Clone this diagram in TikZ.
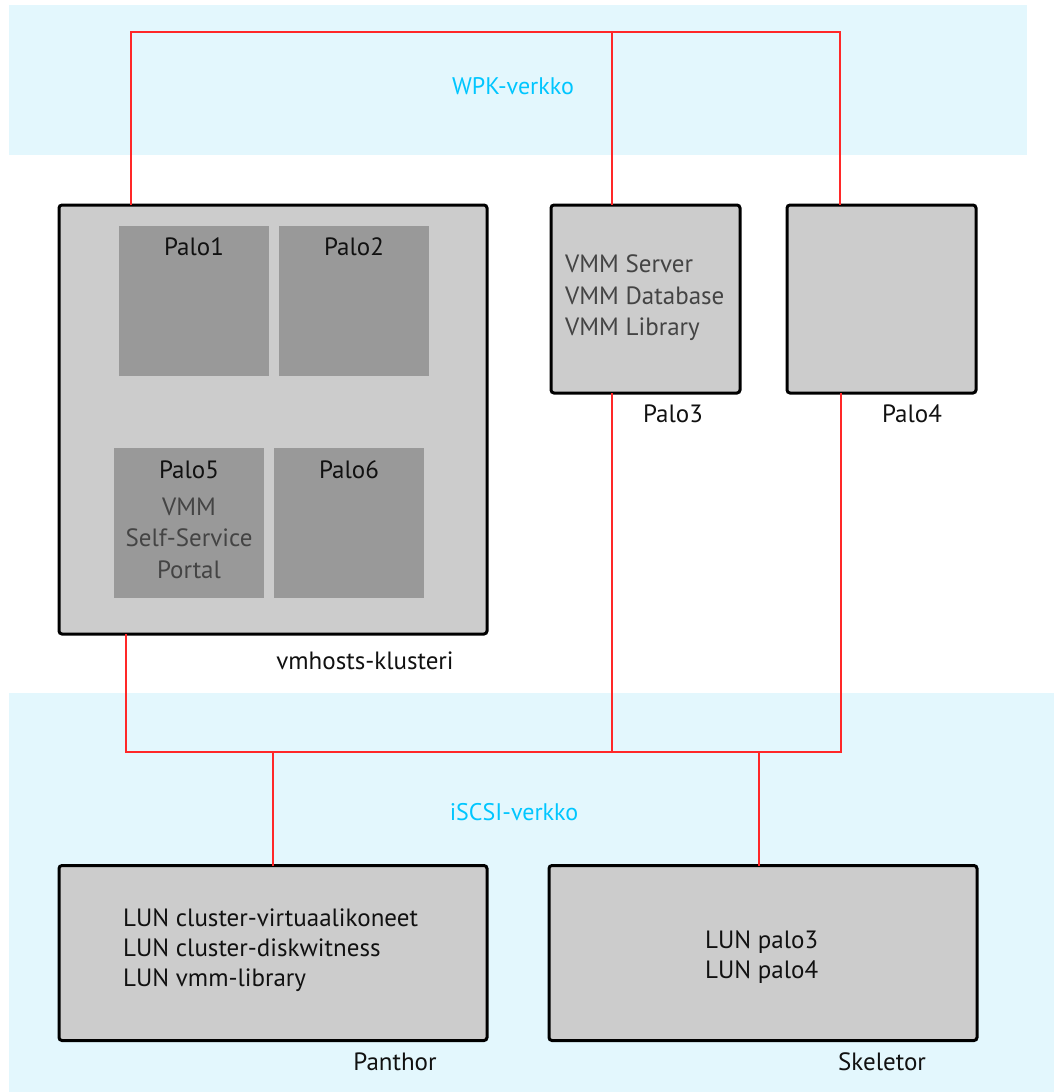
\documentclass[tikz,border=0pt]{standalone}
\usepackage{fontspec}
\setmainfont{PT Sans}
\definecolor{bandblue}{RGB}{227,247,253}
\definecolor{boxgray}{RGB}{204,204,204}
\definecolor{subgray}{RGB}{153,153,153}
\definecolor{netred}{RGB}{255,40,40}
\definecolor{labcyan}{RGB}{0,198,255}
\definecolor{txtgray}{RGB}{68,68,68}
\definecolor{txtblack}{RGB}{17,17,17}
\begin{document}
\begin{tikzpicture}[x=1pt,y=-1pt,
  hostbox/.style={draw=black,line width=3pt,fill=boxgray,rounded corners=3pt,inner sep=0pt,outer sep=0pt},
  subbox/.style={fill=subgray,inner sep=0pt,outer sep=0pt,minimum width=150pt,minimum height=150pt},
  net/.style={draw=netred,line width=2pt},
  lab/.style={font=\fontsize{25}{30}\selectfont,text=txtblack,inner sep=0pt},
  glab/.style={font=\fontsize{25}{31.5}\selectfont,text=txtgray,inner sep=0pt},
  netlab/.style={font=\fontsize{24}{29}\selectfont,text=labcyan,inner sep=0pt}]
\useasboundingbox (0,0) rectangle (1054,1092);
% bands
\fill[bandblue] (9,5) rectangle (1027,155);
\fill[bandblue] (9,693) rectangle (1054,1092);
\node[netlab] (wpk) at (513,86) {WPK-verkko};
\node[netlab] (iscsi) at (514,812) {iSCSI-verkko};
% boxes
\node[hostbox,minimum width=428pt,minimum height=429pt] (vmhosts) at (273,419.5) {};
\node[hostbox,minimum width=189pt,minimum height=188pt] (palo3) at (645.5,299) {};
\node[hostbox,minimum width=189pt,minimum height=188pt] (palo4) at (881.5,299) {};
\node[hostbox,minimum width=428pt,minimum height=175pt] (panthor) at (273,953) {};
\node[hostbox,minimum width=428pt,minimum height=175pt] (skeletor) at (763,953) {};
% sub boxes
\node[subbox] (p1) at (194,301) {};
\node[subbox] (p2) at (354,301) {};
\node[subbox] (p5) at (189,523) {};
\node[subbox] (p6) at (349,523) {};
\node[lab] (p1t) at (194,247) {Palo1};
\node[lab] (p2t) at (354,247) {Palo2};
\node[lab] (p5t) at (189,470) {Palo5};
\node[lab] (p6t) at (349,470) {Palo6};
\node[glab,align=center] (p5s) at (189,538) {VMM\\Self-Service\\Portal};
\node[glab,align=left,anchor=west] (p3s) at (565,298) {VMM Server\\VMM Database\\VMM Library};
\node[lab,align=left,anchor=west] (pant) at (123,950) {LUN cluster-virtuaalikoneet\\LUN cluster-diskwitness\\LUN vmm-library};
\node[lab,align=left,anchor=west] (skelt) at (705,957) {LUN palo3\\LUN palo4};
% labels
\node[lab] (vml) at (365,661) {vmhosts-klusteri};
\node[lab] (p3l) at (673,414) {Palo3};
\node[lab] (p4l) at (912,414) {Palo4};
\node[lab] (panl) at (395,1062) {Panthor};
\node[lab] (skl) at (882,1062) {Skeletor};
% network lines
\coordinate (tl) at (131,32);
\coordinate (tm) at (612,32);
\coordinate (tr) at (840,32);
\coordinate (bl) at (126,752);
\coordinate (bm) at (612,752);
\coordinate (br) at (841,752);
\coordinate (bp) at (273,752);
\coordinate (bs) at (759,752);
\draw[net] (vmhosts.north -| tl) -- (tl) -- (tr) -- (palo4.north -| tr);
\draw[net] (tm) -- (palo3.north -| tm);
\draw[net] (vmhosts.south -| bl) -- (bl) -- (br) -- (palo4.south -| br);
\draw[net] (palo3.south -| bm) -- (bm);
\draw[net] (bp) -- (panthor.north -| bp);
\draw[net] (bs) -- (skeletor.north -| bs);
\end{tikzpicture}
\end{document}
